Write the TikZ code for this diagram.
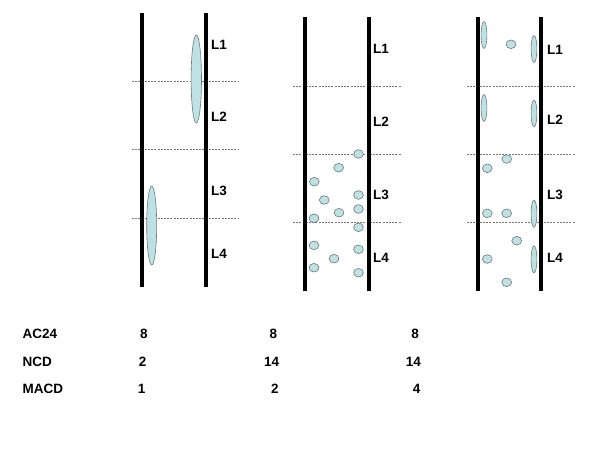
\documentclass[tikz,border=0pt]{standalone}
\usepackage{fontspec}
\setmainfont{Liberation Sans}
\definecolor{cellfill}{RGB}{190,226,228}
\definecolor{celledge}{RGB}{110,120,120}
\definecolor{dashgray}{RGB}{120,120,120}
\tikzset{
  bar/.style={line width=4pt, black},
  levelline/.style={dashgray, line width=0.7pt, dash pattern=on 2pt off 1.2pt},
  cellshape/.style={fill=cellfill, draw=celledge, line width=0.6pt},
  lbl/.style={font=\fontsize{13.5}{16}\selectfont\bfseries, anchor=west, inner sep=0pt},
  num/.style={font=\fontsize{13.5}{16}\selectfont\bfseries, inner sep=0pt},
}
\begin{document}
\begin{tikzpicture}[x=1pt,y=-1pt]
\useasboundingbox (0,0) rectangle (600,450);
% ---- panel 1
\foreach \yy in {81,149,218} \draw[levelline] (132,\yy) -- (239,\yy);
\draw[bar] (141.5,13) -- (141.5,287);
\draw[bar] (206,13) -- (206,287);
\draw[cellshape] (196.3,79) ellipse [x radius=5.2, y radius=44];
\draw[cellshape] (151.7,225.5) ellipse [x radius=5, y radius=39.5];
\node[lbl] (p1l1) at (211,45) {L1};
\node[lbl] (p1l2) at (211,117) {L2};
\node[lbl] (p1l3) at (211,191) {L3};
\node[lbl] (p1l4) at (211,254) {L4};
% ---- panel 2
\foreach \yy in {86,154,222} \draw[levelline] (293,\yy) -- (401,\yy);
\draw[bar] (305,17) -- (305,291);
\draw[bar] (369,17) -- (369,291);
\foreach \cx/\cy in {358.5/154, 338.7/167.7, 314.3/181.7, 324.3/200, 358.5/195,
  339/212.7, 358.5/209, 314/218.3, 358.5/227.3, 314/245.3, 358.5/249.3,
  334/258.7, 314/267.7, 358.5/272.7}
  \draw[cellshape] (\cx,\cy) ellipse [x radius=4.9, y radius=4.3];
\node[lbl] (p2l1) at (373,49) {L1};
\node[lbl] (p2l2) at (373,122) {L2};
\node[lbl] (p2l3) at (373,195) {L3};
\node[lbl] (p2l4) at (373,258) {L4};
% ---- panel 3
\foreach \yy in {86,154,222} \draw[levelline] (467,\yy) -- (575,\yy);
\draw[bar] (477.5,17) -- (477.5,291);
\draw[bar] (541,17) -- (541,291);
\foreach \cx/\cy in {484/35, 534/49, 484/108, 534/113.5, 534/213.7, 534/259.3}
  \draw[cellshape] (\cx,\cy) ellipse [x radius=2.9, y radius=13.5];
\foreach \cx/\cy in {511/44.3, 506.7/159, 487.3/168.3, 487.3/213.3, 506.7/213.3,
  516.7/240.7, 487.3/259, 506.7/282.3}
  \draw[cellshape] (\cx,\cy) ellipse [x radius=4.9, y radius=4.3];
\node[lbl] (p3l1) at (547,50) {L1};
\node[lbl] (p3l2) at (547,120) {L2};
\node[lbl] (p3l3) at (547,195) {L3};
\node[lbl] (p3l4) at (547,258) {L4};
% ---- table
\node[lbl] (ac) at (22.5,334) {AC24};
\node[lbl] (ncd) at (22.5,361.5) {NCD};
\node[lbl] (macd) at (22.5,388.5) {MACD};
\node[num] (a1) at (144,334) {8};
\node[num] (a2) at (273.3,334) {8};
\node[num] (a3) at (415,334) {8};
\node[num] (n1) at (142.7,361.5) {2};
\node[num] (n2) at (271.7,361.5) {14};
\node[num] (n3) at (413.3,361.5) {14};
\node[num] (m1) at (141.7,388.5) {1};
\node[num] (m2) at (275,388.5) {2};
\node[num] (m3) at (416.7,388.5) {4};
\end{tikzpicture}
\end{document}
